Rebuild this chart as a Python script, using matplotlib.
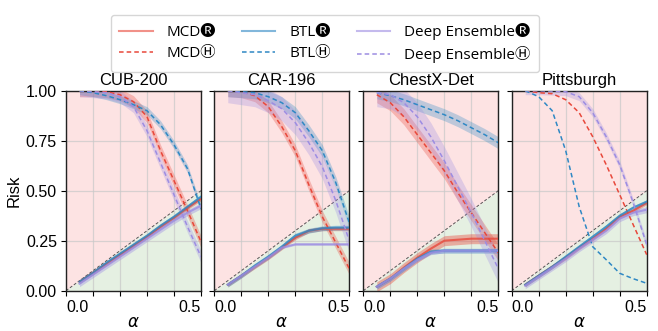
import numpy as np
import matplotlib
matplotlib.use('Agg')
import matplotlib.pyplot as plt
from matplotlib.lines import Line2D

plt.rcParams['font.family'] = ['Liberation Sans', 'DejaVu Sans']
plt.rcParams['mathtext.fontset'] = 'dejavusans'

# alpha levels (x axis)
alphas = [0.05, 0.10, 0.15, 0.20, 0.25, 0.30, 0.35, 0.40, 0.45, 0.50]
titles = ['CUB-200', 'CAR-196', 'ChestX-Det', 'Pittsburgh']
methods = ['MCD', 'BTL', 'Deep Ensemble']
colors = ['#e8483b', '#2f88c4', '#9d8de2']

# Ⓗ curves (dashed, upper)
cub_mcd_h = [1.0, 1.0, 0.995, 0.98, 0.945, 0.87, 0.70, 0.55, 0.40, 0.245]
cub_btl_h = [1.0, 0.99, 0.975, 0.955, 0.93, 0.90, 0.83, 0.73, 0.61, 0.41]
cub_de_h = [1.0, 0.995, 0.99, 0.97, 0.92, 0.80, 0.64, 0.48, 0.32, 0.17]
car_mcd_h = [1.0, 0.995, 0.975, 0.92, 0.82, 0.70, 0.53, 0.37, 0.24, 0.11]
car_btl_h = [1.0, 0.995, 0.99, 0.97, 0.94, 0.89, 0.80, 0.70, 0.54, 0.34]
car_de_h = [1.0, 0.99, 0.98, 0.95, 0.91, 0.84, 0.74, 0.62, 0.45, 0.25]
chx_mcd_h = [0.98, 0.94, 0.87, 0.78, 0.69, 0.60, 0.49, 0.39, 0.29, 0.19]
chx_btl_h = [0.99, 0.975, 0.955, 0.93, 0.905, 0.88, 0.85, 0.815, 0.78, 0.74]
chx_de_h = [0.99, 0.98, 0.94, 0.87, 0.77, 0.65, 0.52, 0.39, 0.25, 0.11]
pit_mcd_h = [1.0, 0.99, 0.985, 0.955, 0.89, 0.77, 0.63, 0.48, 0.33, 0.18]
pit_btl_h = [1.0, 0.97, 0.90, 0.70, 0.42, 0.22, 0.155, 0.087, 0.06, 0.037]
pit_de_h = [1.0, 1.0, 0.998, 0.995, 0.97, 0.89, 0.77, 0.63, 0.44, 0.23]

# 🅡 curves (solid, lower)
cub_mcd_r = [0.045, 0.09, 0.135, 0.18, 0.225, 0.27, 0.32, 0.365, 0.415, 0.46]
cub_btl_r = [0.045, 0.09, 0.14, 0.185, 0.23, 0.275, 0.325, 0.37, 0.42, 0.47]
cub_de_r = [0.035, 0.08, 0.125, 0.17, 0.215, 0.26, 0.305, 0.35, 0.39, 0.425]
car_mcd_r = [0.03, 0.075, 0.12, 0.165, 0.215, 0.265, 0.30, 0.31, 0.31, 0.31]
car_btl_r = [0.03, 0.075, 0.125, 0.17, 0.22, 0.275, 0.30, 0.312, 0.315, 0.315]
car_de_r = [0.03, 0.075, 0.12, 0.165, 0.215, 0.232, 0.232, 0.232, 0.232, 0.232]
chx_mcd_r = [0.02, 0.06, 0.115, 0.165, 0.21, 0.25, 0.255, 0.26, 0.26, 0.26]
chx_btl_r = [0.02, 0.06, 0.11, 0.16, 0.195, 0.20, 0.20, 0.20, 0.20, 0.20]
chx_de_r = [0.02, 0.06, 0.11, 0.155, 0.19, 0.20, 0.20, 0.20, 0.20, 0.20]
pit_mcd_r = [0.03, 0.075, 0.12, 0.165, 0.215, 0.26, 0.31, 0.37, 0.40, 0.44]
pit_btl_r = [0.03, 0.075, 0.12, 0.17, 0.22, 0.27, 0.32, 0.375, 0.415, 0.445]
pit_de_r = [0.025, 0.07, 0.115, 0.16, 0.21, 0.255, 0.30, 0.36, 0.39, 0.405]

# half-width of the shaded bands, per panel: [MCD, BTL, DE]
band_h = [[0.03, 0.02, 0.03], [0.03, 0.03, 0.06], [0.04, 0.03, 0.07], [0.0, 0.0, 0.02]]
band_r = [[0.01, 0.01, 0.015], [0.01, 0.012, 0.005], [0.025, 0.012, 0.01], [0.01, 0.01, 0.015]]

h_data = [[cub_mcd_h, cub_btl_h, cub_de_h], [car_mcd_h, car_btl_h, car_de_h],
          [chx_mcd_h, chx_btl_h, chx_de_h], [pit_mcd_h, pit_btl_h, pit_de_h]]
r_data = [[cub_mcd_r, cub_btl_r, cub_de_r], [car_mcd_r, car_btl_r, car_de_r],
          [chx_mcd_r, chx_btl_r, chx_de_r], [pit_mcd_r, pit_btl_r, pit_de_r]]

fig = plt.figure(figsize=(6.58, 3.31), dpi=100)
lefts = [66, 214.3, 363.3, 511.7]
x = np.array(alphas)
diag = np.array([0.0, 0.5])

for i, title in enumerate(titles):
    ax = fig.add_axes([lefts[i] / 658, 40.3 / 331, 135 / 658, 200 / 331])
    ax.fill_between(diag, diag, 1.0, color='#fde3e3', zorder=0.1, lw=0)
    ax.fill_between(diag, 0.0, diag, color='#e5f0e2', zorder=0.1, lw=0)
    ax.plot(diag, diag, ls=(0, (3, 2)), color='#555555', lw=0.7, zorder=1)
    for j in range(3):
        c = colors[j]
        h = np.array(h_data[i][j])
        r = np.array(r_data[i][j])
        if band_h[i][j] > 0:
            ax.fill_between(x, h - band_h[i][j], h + band_h[i][j], color=c, alpha=0.3, lw=0, zorder=2)
        ax.fill_between(x, r - band_r[i][j], r + band_r[i][j], color=c, alpha=0.4, lw=0, zorder=2)
        ax.plot(x, h, color=c, ls=(0, (3, 2)), lw=1.1, zorder=3)
        ax.plot(x, r, color=c, lw=1.5, alpha=0.8, zorder=3)
    ax.set_xlim(0, 0.5)
    ax.set_ylim(0, 1)
    ax.set_axisbelow(True)
    ax.grid(True, color='#c8c8c8', lw=0.9, alpha=0.7)
    ax.set_xticks([0, 0.1, 0.2, 0.3, 0.4, 0.5])
    ax.set_xticklabels(['0.0', '', '', '', '', '0.5'], fontsize=11.5)
    labs = ax.get_xticklabels()
    labs[0].set_ha('left')
    labs[-1].set_ha('right')
    ax.set_yticks([0, 0.25, 0.5, 0.75, 1.0])
    if i == 0:
        ax.set_yticklabels(['0.00', '0.25', '0.50', '0.75', '1.00'], fontsize=11.5)
        ax.set_ylabel('Risk', fontsize=12, labelpad=3)
    else:
        ax.set_yticklabels([])
    ax.tick_params(length=3.5, width=0.8, pad=3)
    for s in ax.spines.values():
        s.set_color('#222222')
        s.set_linewidth(1.0)
    ax.set_title(title, fontsize=12, pad=4)
    ax.set_xlabel(r'$\alpha$', fontsize=12, labelpad=0)

handles = []
labels = []
for j, m in enumerate(methods):
    handles.append(Line2D([], [], color=colors[j], lw=1.5, alpha=0.6))
    labels.append(m + '\U0001F161')
    handles.append(Line2D([], [], color=colors[j], lw=1.1, ls=(0, (3, 2))))
    labels.append(m + '\u24BD')
leg = fig.legend(handles, labels, ncol=3, loc='upper left', bbox_to_anchor=(103 / 658, 1 - 7 / 331),
                 frameon=True, handlelength=2.2, handletextpad=0.9,
                 columnspacing=1.7, borderpad=0.55, labelspacing=0.4,
                 prop={'family': ['Open Sans', 'Noto Sans CJK JP', 'Noto Sans', 'DejaVu Sans'], 'size': 11})
leg.get_frame().set_edgecolor('#cccccc')

fig.savefig('out.png', dpi=100)
